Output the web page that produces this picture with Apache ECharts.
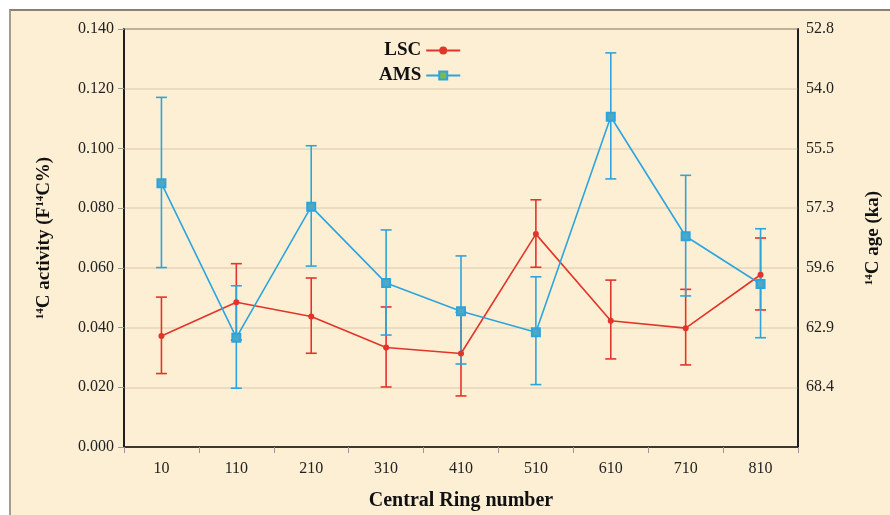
<!DOCTYPE html>
<html>
<head>
<meta charset="utf-8">
<script src="https://cdn.jsdelivr.net/npm/echarts@6/dist/echarts.min.js"></script>
<style>
  html, body { margin: 0; padding: 0; background: #fff; }
  #wrap { position: relative; width: 890px; height: 515px; overflow: hidden; }
  #bg { position: absolute; left: 9px; top: 9px; right: 0; bottom: 0; background: #fdefd4;
        border-top: 2px solid #8a8073; border-left: 2px solid #a49b91; }
  #main { position: absolute; left: 0; top: 0; width: 890px; height: 515px; }
</style>
</head>
<body>
<div id="wrap">
  <div id="bg"></div>
  <div id="main"></div>
</div>
<script>
// 数据
const rings = ['10', '110', '210', '310', '410', '510', '610', '710', '810'];
const lscValue = [0.0372, 0.0485, 0.0437, 0.0333, 0.0313, 0.0713, 0.0423, 0.0398, 0.0577];
const lscHigh  = [0.0502, 0.0614, 0.0566, 0.0469, 0.0451, 0.0828, 0.0559, 0.0528, 0.0700];
const lscLow   = [0.0246, 0.0358, 0.0314, 0.0201, 0.0171, 0.0602, 0.0295, 0.0275, 0.0459];
const amsValue = [0.0883, 0.0366, 0.0805, 0.0549, 0.0455, 0.0384, 0.1106, 0.0706, 0.0546];
const amsHigh  = [0.1171, 0.0540, 0.1009, 0.0727, 0.0640, 0.0570, 0.1320, 0.0910, 0.0731];
const amsLow   = [0.0601, 0.0197, 0.0606, 0.0375, 0.0278, 0.0209, 0.0898, 0.0506, 0.0366];
// 右轴标签（年龄 ka），对应 0.140 ... 0.000
const ageLabels = ['52.8', '54.0', '55.5', '57.3', '59.6', '62.9', '68.4', ''];

const RED = '#e3342a';
const BLUE = '#2ea4dc';
const GREEN = '#79bd46';
const FONT = 'Liberation Serif';

const myChart = echarts.init(document.getElementById('main'), null, { renderer: 'canvas' });

// 误差线（custom series）
function errorBar(name, color, low, high) {
    return {
        name: name,
        type: 'custom',
        z: 3,
        silent: true,
        data: rings.map((r, i) => [i, low[i], high[i]]),
        renderItem: (params, api) => {
            const x = api.value(0);
            const lo = api.coord([x, api.value(1)]);
            const hi = api.coord([x, api.value(2)]);
            const half = 5.5;
            const style = { stroke: color, lineWidth: 1.6 };
            return {
                type: 'group',
                children: [
                    { type: 'line', shape: { x1: hi[0], y1: hi[1], x2: lo[0], y2: lo[1] }, style: style },
                    { type: 'line', shape: { x1: hi[0] - half, y1: hi[1], x2: hi[0] + half, y2: hi[1] }, style: style },
                    { type: 'line', shape: { x1: lo[0] - half, y1: lo[1], x2: lo[0] + half, y2: lo[1] }, style: style }
                ]
            };
        }
    };
}

const richName = {
    b: { fontFamily: FONT, fontWeight: 'bold', fontSize: 19, color: '#111' },
    sup: { fontFamily: FONT, fontWeight: 'bold', fontSize: 11, color: '#111', verticalAlign: 'top', padding: [0, 0, 8, 0] }
};

const option = {
    animation: false,
    backgroundColor: 'transparent',
    textStyle: { fontFamily: FONT },
    grid: {
        left: 124, right: 92, top: 29, bottom: 68,
        containLabel: false,
        outerBoundsMode: 'none',
        show: true,
        borderColor: '#111',
        borderWidth: 1.5,
        backgroundColor: 'transparent'
    },
    legend: {
        orient: 'vertical',
        left: 374,
        top: 36,
        align: 'right',
        itemGap: 6,
        itemWidth: 34,
        itemHeight: 10,
        data: [
            { name: 'LSC' },
            { name: 'AMS', itemStyle: { color: GREEN, borderColor: BLUE, borderWidth: 2 } }
        ],
        textStyle: { fontFamily: FONT, fontWeight: 'bold', fontSize: 19, color: '#111', width: 46, align: 'right' }
    },
    xAxis: {
        type: 'category',
        data: rings,
        boundaryGap: true,
        name: 'Central Ring number',
        nameLocation: 'middle',
        nameGap: 44,
        nameTextStyle: { fontFamily: FONT, fontWeight: 'bold', fontSize: 20, color: '#111' },
        axisLine: { lineStyle: { color: '#111', width: 1.5 } },
        axisTick: { show: true, length: 6, lineStyle: { color: '#999' } },
        axisLabel: { fontFamily: FONT, fontSize: 16, color: '#222', margin: 14 },
        splitLine: { show: false }
    },
    yAxis: [
        {
            type: 'value',
            min: 0,
            max: 0.14,
            interval: 0.02,
            position: 'left',
            name: '{sup|14}{b|C activity (F}{sup|14}{b|C%)}',
            nameLocation: 'middle',
            nameGap: 70,
            nameRotate: 90,
            nameTextStyle: { color: '#111', rich: richName },
            axisLine: { show: true, lineStyle: { color: '#111', width: 1.5 } },
            axisTick: { show: true, length: 6, lineStyle: { color: '#999' } },
            axisLabel: { fontFamily: FONT, fontSize: 16, color: '#222', margin: 10, formatter: v => v.toFixed(3) },
            splitLine: { show: true, lineStyle: { color: '#e6d6b8', width: 1.5 } }
        },
        {
            type: 'value',
            min: 0,
            max: 0.14,
            interval: 0.02,
            position: 'right',
            name: '{sup|14}{b|C age (ka)}',
            nameLocation: 'middle',
            nameGap: 66,
            nameRotate: 90,
            nameTextStyle: { color: '#111', rich: richName },
            axisLine: { show: true, lineStyle: { color: '#111', width: 1.5 } },
            axisTick: { show: false },
            axisLabel: {
                fontFamily: FONT, fontSize: 16, color: '#222', margin: 8,
                formatter: v => ageLabels[Math.round((0.14 - v) / 0.02)] || ''
            },
            splitLine: { show: false }
        }
    ],
    series: [
        errorBar('LSC-err', RED, lscLow, lscHigh),
        errorBar('AMS-err', BLUE, amsLow, amsHigh),
        {
            name: 'LSC',
            type: 'line',
            z: 4,
            data: lscValue,
            symbol: 'circle',
            symbolSize: 6,
            showAllSymbol: true,
            lineStyle: { color: RED, width: 1.6 },
            itemStyle: { color: RED }
        },
        {
            name: 'AMS',
            type: 'line',
            z: 5,
            data: amsValue,
            symbol: 'rect',
            symbolSize: 8,
            showAllSymbol: true,
            lineStyle: { color: BLUE, width: 1.6 },
            itemStyle: { color: '#4aa9c6', borderColor: BLUE, borderWidth: 2 }
        }
    ]
};

myChart.setOption(option);
window.onresize = () => { myChart.resize(); };
</script>
</body>
</html>
